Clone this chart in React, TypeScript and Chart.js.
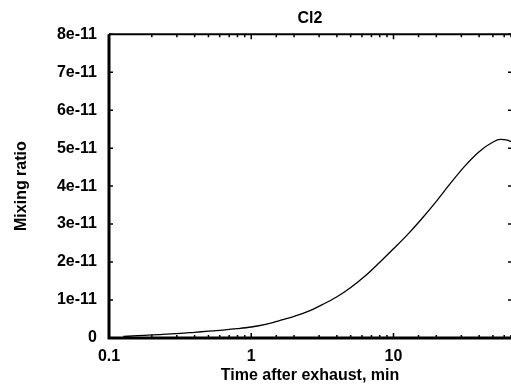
import React, { useEffect, useRef } from "react";
import { Chart, registerables } from "chart.js";

Chart.register(...registerables);

const timeMin = [0.126, 0.158, 0.2, 0.251, 0.316, 0.398, 0.501, 0.631, 0.794, 1, 1.26, 1.58, 2.0, 2.51, 3.16, 3.98, 5.01, 6.31, 7.94, 10, 12.6, 15.8, 20, 25.1, 31.6, 39.8, 50.1, 56.2, 63.1, 67];
const cl2Ratio = [0.04e-11, 0.06e-11, 0.08e-11, 0.1e-11, 0.12e-11, 0.15e-11, 0.18e-11, 0.21e-11, 0.245e-11, 0.29e-11, 0.36e-11, 0.46e-11, 0.57e-11, 0.7e-11, 0.88e-11, 1.08e-11, 1.33e-11, 1.63e-11, 1.98e-11, 2.35e-11, 2.73e-11, 3.14e-11, 3.6e-11, 4.07e-11, 4.52e-11, 4.9e-11, 5.16e-11, 5.23e-11, 5.21e-11, 5.17e-11];
const xLabelTicks = [0.1, 1, 10];
const chartTitle = "Cl2";
const xTitle = "Time after exhaust, min";
const yTitle = "Mixing ratio";

const FONT = "'Liberation Sans', Arial, sans-serif";

const frame = {
  id: "frame",
  afterDraw(chart: any) {
    const { ctx, chartArea: a, scales } = chart;
    ctx.save();
    ctx.strokeStyle = "#000";
    ctx.lineWidth = 1.5;
    for (const t of scales.x.ticks) {
      const px = scales.x.getPixelForValue(t.value);
      if (px < a.left - 0.5 || px > a.right + 0.5) continue;
      const major = xLabelTicks.some((v) => Math.abs(v - t.value) < 1e-9);
      const len = major ? 5 : 3;
      ctx.beginPath();
      ctx.moveTo(px, a.bottom);
      ctx.lineTo(px, a.bottom - len);
      ctx.moveTo(px, a.top);
      ctx.lineTo(px, a.top + len);
      ctx.stroke();
    }
    for (const t of scales.y.ticks) {
      const py = scales.y.getPixelForValue(t.value);
      ctx.beginPath();
      ctx.moveTo(a.left, py);
      ctx.lineTo(a.left + 4, py);
      ctx.moveTo(a.right, py);
      ctx.lineTo(a.right - 3, py);
      ctx.stroke();
    }
    ctx.lineWidth = 2;
    ctx.beginPath();
    ctx.moveTo(a.left, a.top);
    ctx.lineTo(a.right, a.top);
    ctx.stroke();
    ctx.lineWidth = 3;
    ctx.beginPath();
    ctx.moveTo(a.left, a.top);
    ctx.lineTo(a.left, a.bottom);
    ctx.lineTo(a.right, a.bottom);
    ctx.stroke();
    ctx.restore();
  },
};

export default function App() {
  const ref = useRef<HTMLCanvasElement>(null);
  useEffect(() => {
    const chart = new Chart(ref.current as HTMLCanvasElement, {
      type: "line",
      data: {
        datasets: [
          {
            data: timeMin.map((t, i) => ({ x: t, y: cl2Ratio[i] })),
            borderColor: "#000",
            borderWidth: 1.3,
            pointRadius: 0,
            cubicInterpolationMode: "monotone",
            fill: false,
          },
        ],
      },
      options: {
        animation: false,
        responsive: false,
        layout: { padding: { left: 0, right: 0, top: 0, bottom: 0 } },
        plugins: {
          legend: { display: false },
          tooltip: { enabled: false },
          title: {
            display: true,
            text: chartTitle,
            fullSize: false,
            color: "#000",
            font: { family: FONT, size: 16, weight: "bold" },
            padding: { top: 9, bottom: 6 },
          },
        },
        scales: {
          x: {
            type: "logarithmic",
            min: 0.1,
            max: 67,
            border: { display: false },
            grid: { display: false, drawTicks: false },
            ticks: {
              autoSkip: false,
              maxRotation: 0,
              padding: 9,
              color: "#000",
              font: { family: FONT, size: 16, weight: "bold" },
              callback: (v: any) => {
                const n = Number(v);
                const hit = xLabelTicks.find((m) => Math.abs(m - n) < 1e-9);
                return hit !== undefined ? String(hit) : "";
              },
            },
            title: {
              display: true,
              text: xTitle,
              color: "#000",
              font: { family: FONT, size: 16, weight: "bold" },
              padding: { top: 0, bottom: 4 },
            },
            afterFit: (s: any) => {
              s.height = 51;
              s.paddingRight = 0;
            },
          },
          y: {
            min: 0,
            max: 8e-11,
            border: { display: false },
            grid: { display: false, drawTicks: false },
            ticks: {
              stepSize: 1e-11,
              padding: 12,
              color: "#000",
              font: { family: FONT, size: 16, weight: "bold" },
              callback: (v: any) => {
                const n = Math.round(Number(v) / 1e-11);
                return n === 0 ? "0" : `${n}e-11`;
              },
            },
            title: {
              display: true,
              text: yTitle,
              color: "#000",
              font: { family: FONT, size: 16, weight: "bold" },
              padding: { top: 12, bottom: 0 },
            },
            afterFit: (s: any) => {
              s.width = 109;
            },
          },
        },
      },
      plugins: [frame],
    } as any);
    return () => chart.destroy();
  }, []);
  return (
    <div style={{ position: "absolute", left: 0, top: 0, width: 511, height: 389, background: "#fff" }}>
      <canvas ref={ref} width={511} height={389} />
    </div>
  );
}
